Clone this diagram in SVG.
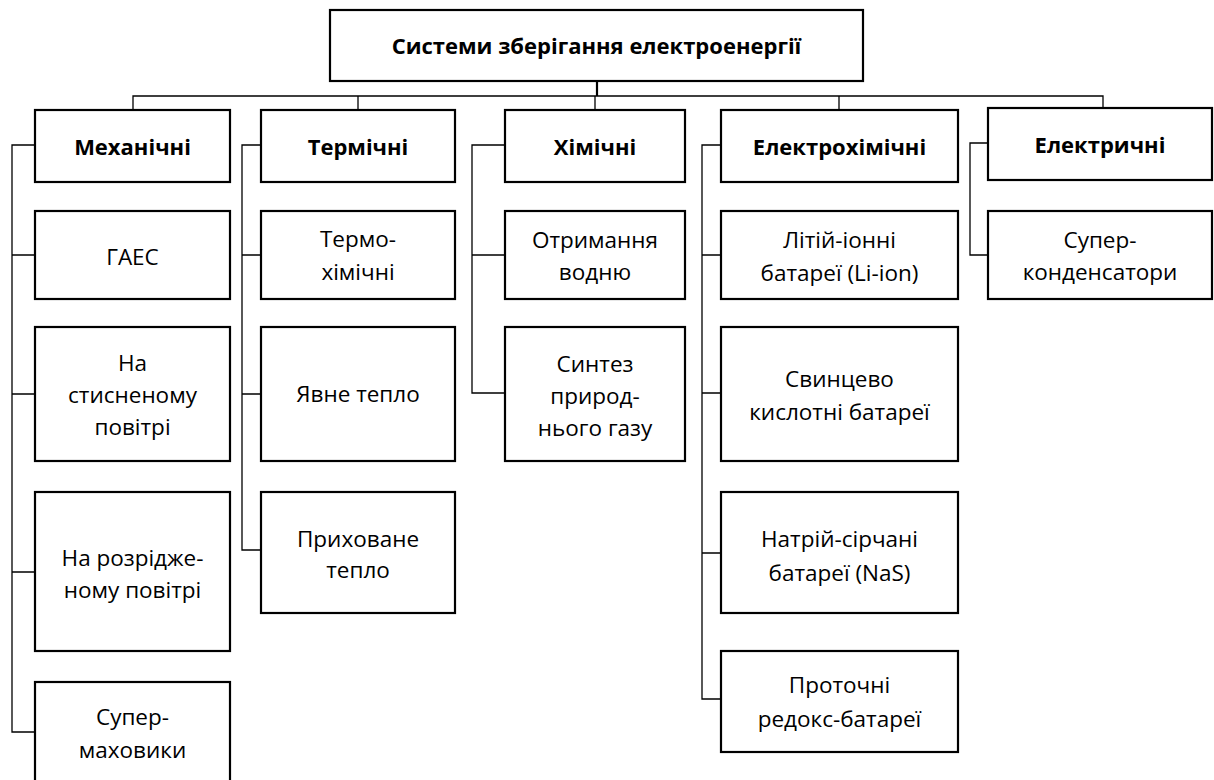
<svg xmlns="http://www.w3.org/2000/svg" width="1214" height="780" viewBox="0 0 1214 780">
<style>
.box{fill:#fff;stroke:#000;stroke-width:2.2}
.c{fill:none;stroke:#000;stroke-width:1.3}
.c2{fill:none;stroke:#000;stroke-width:2.2}
text{font-family:"Open Sans","Noto Sans","DejaVu Sans",sans-serif;font-size:22.5px;fill:#000;text-anchor:middle}
.b{font-weight:bold;font-size:22px}
</style>
<rect width="1214" height="780" fill="#fff"/>
<g id="connectors">
<path class="c2" d="M597,81 V96"/>
<path class="c" d="M133,110 V96 H1103 V108"/>
<path class="c" d="M358,96 V110 M595,96 V110 M839,96 V110"/>
<path class="c" d="M35,145 H12 V732 H35 M12,255 H35 M12,394 H35 M12,572 H35"/>
<path class="c" d="M261,145 H242 V550 H261 M242,255 H261 M242,394 H261"/>
<path class="c" d="M505,145 H472 V393 H505 M472,255 H505"/>
<path class="c" d="M721,145 H702 V699 H721 M702,255 H721 M702,393 H721 M702,553 H721"/>
<path class="c" d="M988,143 H970 V255 H988"/>
</g>
<g id="root"><rect class="box" x="330" y="10" width="533" height="71"/><text class="b" x="596.5" y="54">Системи зберігання електроенергії</text></g>
<g id="mech"><rect class="box" x="35" y="110" width="195" height="72"/><text class="b" x="132.5" y="155">Механічні</text></g>
<g id="therm"><rect class="box" x="261" y="110" width="194" height="72"/><text class="b" x="358" y="155">Термічні</text></g>
<g id="chem"><rect class="box" x="505" y="110" width="180" height="72"/><text class="b" x="595" y="155">Хімічні</text></g>
<g id="echem"><rect class="box" x="721" y="110" width="237" height="72"/><text class="b" x="839.5" y="155">Електрохімічні</text></g>
<g id="elec"><rect class="box" x="988" y="108" width="224" height="72"/><text class="b" x="1100" y="153">Електричні</text></g>

<g id="gaes"><rect class="box" x="35" y="211" width="195" height="88"/><text x="132.5" y="265">ГАЕС</text></g>
<g id="compressed"><rect class="box" x="35" y="327" width="195" height="134"/><text x="132.5" y="371">На</text><text x="132.5" y="403">стисненому</text><text x="132.5" y="435">повітрі</text></g>
<g id="rarefied"><rect class="box" x="35" y="492" width="195" height="159"/><text x="132.5" y="566">На розрідже-</text><text x="132.5" y="598">ному повітрі</text></g>
<g id="flywheels"><rect class="box" x="35" y="682" width="195" height="110"/><text x="132.5" y="725">Супер-</text><text x="132.5" y="758">маховики</text></g>

<g id="thermochem"><rect class="box" x="261" y="211" width="194" height="88"/><text x="358" y="247">Термо-</text><text x="358" y="280">хімічні</text></g>
<g id="sensible"><rect class="box" x="261" y="327" width="194" height="134"/><text x="358" y="402">Явне тепло</text></g>
<g id="latent"><rect class="box" x="261" y="492" width="194" height="121"/><text x="358" y="547">Приховане</text><text x="358" y="578">тепло</text></g>

<g id="hydrogen"><rect class="box" x="505" y="211" width="180" height="88"/><text x="595" y="248">Отримання</text><text x="595" y="280">водню</text></g>
<g id="synthgas"><rect class="box" x="505" y="327" width="180" height="134"/><text x="595" y="372">Синтез</text><text x="595" y="404">природ-</text><text x="595" y="436">нього газу</text></g>

<g id="liion"><rect class="box" x="721" y="211" width="237" height="88"/><text x="839.5" y="248">Літій-іонні</text><text x="839.5" y="281">батареї (Li-ion)</text></g>
<g id="leadacid"><rect class="box" x="721" y="327" width="237" height="134"/><text x="839.5" y="387">Свинцево</text><text x="839.5" y="420">кислотні батареї</text></g>
<g id="nas"><rect class="box" x="721" y="492" width="237" height="121"/><text x="839.5" y="547">Натрій-сірчані</text><text x="839.5" y="581">батареї (NaS)</text></g>
<g id="redox"><rect class="box" x="721" y="651" width="237" height="101"/><text x="839.5" y="693">Проточні</text><text x="839.5" y="727">редокс-батареї</text></g>

<g id="supercap"><rect class="box" x="988" y="211" width="224" height="88"/><text x="1100" y="248">Супер-</text><text x="1100" y="280">конденсатори</text></g>
</svg>
